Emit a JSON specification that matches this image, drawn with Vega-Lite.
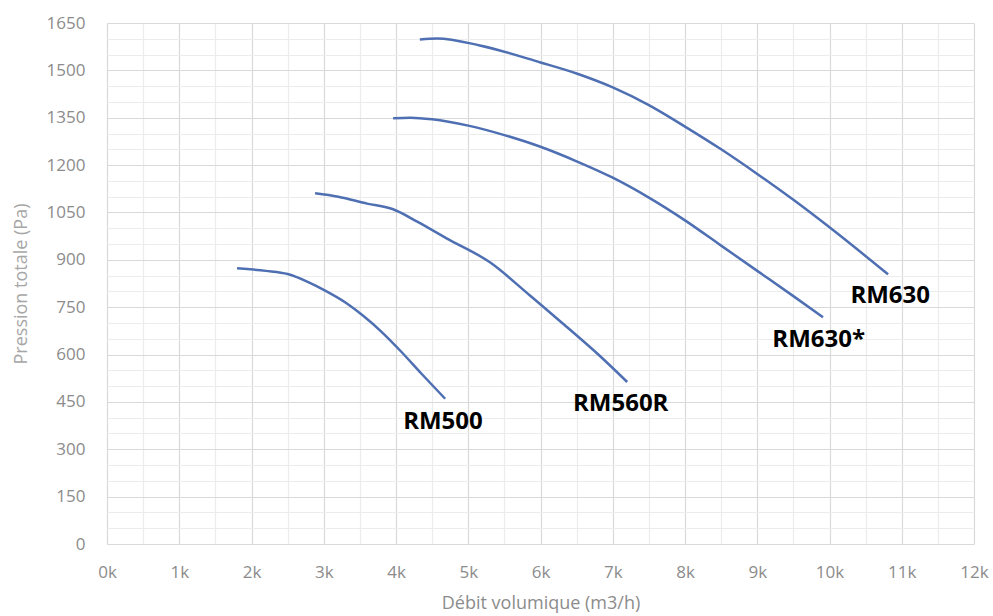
{
  "$schema": "https://vega.github.io/schema/vega-lite/v6.json",
  "width": 867,
  "height": 521,
  "autosize": {"type": "none"},
  "padding": {"left": 107, "top": 23, "right": 19, "bottom": 72},
  "background": "white",
  "config": {"view": {"stroke": null}, "font": "Open Sans"},
  "datasets": {
    "curves": [
      {"serie": "RM500", "debit": 1800, "pression": 873},
      {"serie": "RM500", "debit": 2200, "pression": 865},
      {"serie": "RM500", "debit": 2500, "pression": 855},
      {"serie": "RM500", "debit": 2800, "pression": 828},
      {"serie": "RM500", "debit": 3000, "pression": 805},
      {"serie": "RM500", "debit": 3300, "pression": 765},
      {"serie": "RM500", "debit": 3550, "pression": 722},
      {"serie": "RM500", "debit": 3800, "pression": 672},
      {"serie": "RM500", "debit": 4060, "pression": 612},
      {"serie": "RM500", "debit": 4350, "pression": 540},
      {"serie": "RM500", "debit": 4680, "pression": 460},
      {"serie": "RM560R", "debit": 2880, "pression": 1111},
      {"serie": "RM560R", "debit": 3200, "pression": 1100},
      {"serie": "RM560R", "debit": 3600, "pression": 1078},
      {"serie": "RM560R", "debit": 3960, "pression": 1060},
      {"serie": "RM560R", "debit": 4300, "pression": 1020},
      {"serie": "RM560R", "debit": 4700, "pression": 968},
      {"serie": "RM560R", "debit": 5300, "pression": 892},
      {"serie": "RM560R", "debit": 5850, "pression": 788},
      {"serie": "RM560R", "debit": 6300, "pression": 700},
      {"serie": "RM560R", "debit": 6800, "pression": 600},
      {"serie": "RM560R", "debit": 7200, "pression": 513},
      {"serie": "RM630*", "debit": 3960, "pression": 1348},
      {"serie": "RM630*", "debit": 4200, "pression": 1350},
      {"serie": "RM630*", "debit": 4500, "pression": 1345},
      {"serie": "RM630*", "debit": 5000, "pression": 1325},
      {"serie": "RM630*", "debit": 5500, "pression": 1295},
      {"serie": "RM630*", "debit": 6000, "pression": 1258},
      {"serie": "RM630*", "debit": 6500, "pression": 1212},
      {"serie": "RM630*", "debit": 7000, "pression": 1160},
      {"serie": "RM630*", "debit": 7500, "pression": 1097},
      {"serie": "RM630*", "debit": 8000, "pression": 1025},
      {"serie": "RM630*", "debit": 8500, "pression": 945},
      {"serie": "RM630*", "debit": 9000, "pression": 865},
      {"serie": "RM630*", "debit": 9500, "pression": 785},
      {"serie": "RM630*", "debit": 9910, "pression": 718},
      {"serie": "RM630", "debit": 4330, "pression": 1598},
      {"serie": "RM630", "debit": 4570, "pression": 1601},
      {"serie": "RM630", "debit": 5160, "pression": 1579},
      {"serie": "RM630", "debit": 6000, "pression": 1525},
      {"serie": "RM630", "debit": 6500, "pression": 1490},
      {"serie": "RM630", "debit": 7000, "pression": 1446},
      {"serie": "RM630", "debit": 7500, "pression": 1390},
      {"serie": "RM630", "debit": 8000, "pression": 1322},
      {"serie": "RM630", "debit": 8500, "pression": 1250},
      {"serie": "RM630", "debit": 9000, "pression": 1172},
      {"serie": "RM630", "debit": 9500, "pression": 1090},
      {"serie": "RM630", "debit": 10000, "pression": 1003},
      {"serie": "RM630", "debit": 10810, "pression": 854}
    ],
    "labels": [
      {"serie": "RM500", "debit": 4650, "pression": 386},
      {"serie": "RM560R", "debit": 7110, "pression": 443},
      {"serie": "RM630*", "debit": 9850, "pression": 646},
      {"serie": "RM630", "debit": 10840, "pression": 785}
    ]
  },
  "encoding": {
    "x": {
      "field": "debit",
      "type": "quantitative",
      "scale": {"domain": [0, 12000], "nice": false, "zero": false},
      "axis": {
        "title": "Débit volumique (m3/h)",
        "values": [0,500,1000,1500,2000,2500,3000,3500,4000,4500,5000,5500,6000,6500,7000,7500,8000,8500,9000,9500,10000,10500,11000,11500,12000],
        "labelExpr": "datum.value % 1000 == 0 ? (datum.value / 1000) + 'k' : ''",
        "domain": false,
        "ticks": false,
        "grid": true,
        "gridColor": {"condition": {"test": "datum.value % 1000 == 0", "value": "#d9d9d9"}, "value": "#ececec"},
        "gridWidth": 1.2,
        "labelFont": "Open Sans",
        "labelFontSize": 17,
        "labelColor": "#8c8c8c",
        "labelPadding": 20,
        "labelFlush": false,
        "labelOverlap": false,
        "titleFont": "Open Sans",
        "titleFontSize": 18,
        "titleFontWeight": "normal",
        "titleColor": "#8c8c8c",
        "titlePadding": 14
      }
    },
    "y": {
      "field": "pression",
      "type": "quantitative",
      "scale": {"domain": [0, 1650], "nice": false},
      "axis": {
        "title": "Pression totale (Pa)",
        "values": [0,50,100,150,200,250,300,350,400,450,500,550,600,650,700,750,800,850,900,950,1000,1050,1100,1150,1200,1250,1300,1350,1400,1450,1500,1550,1600,1650],
        "labelExpr": "datum.value % 150 == 0 ? datum.value : ''",
        "domain": false,
        "ticks": false,
        "grid": true,
        "gridColor": {"condition": {"test": "datum.value % 150 == 0", "value": "#d9d9d9"}, "value": "#ececec"},
        "gridWidth": 1.2,
        "labelFont": "Open Sans",
        "labelFontSize": 17,
        "labelColor": "#8c8c8c",
        "labelPadding": 22,
        "labelOverlap": false,
        "labelFlush": false,
        "titleFont": "Open Sans",
        "titleFontSize": 18,
        "titleFontWeight": "normal",
        "titleColor": "#a6a6a6",
        "titlePadding": 16
      }
    }
  },
  "layer": [
    {
      "data": {"name": "curves"},
      "mark": {"type": "line", "interpolate": "monotone", "color": "#4f6fb3", "strokeWidth": 2.5, "clip": false},
      "encoding": {"detail": {"field": "serie", "type": "nominal"}}
    },
    {
      "data": {"name": "labels"},
      "mark": {"type": "text", "font": "Open Sans", "fontWeight": "bold", "fontSize": 24, "color": "#000000", "align": "center", "baseline": "middle"},
      "encoding": {"text": {"field": "serie", "type": "nominal"}}
    }
  ]
}
